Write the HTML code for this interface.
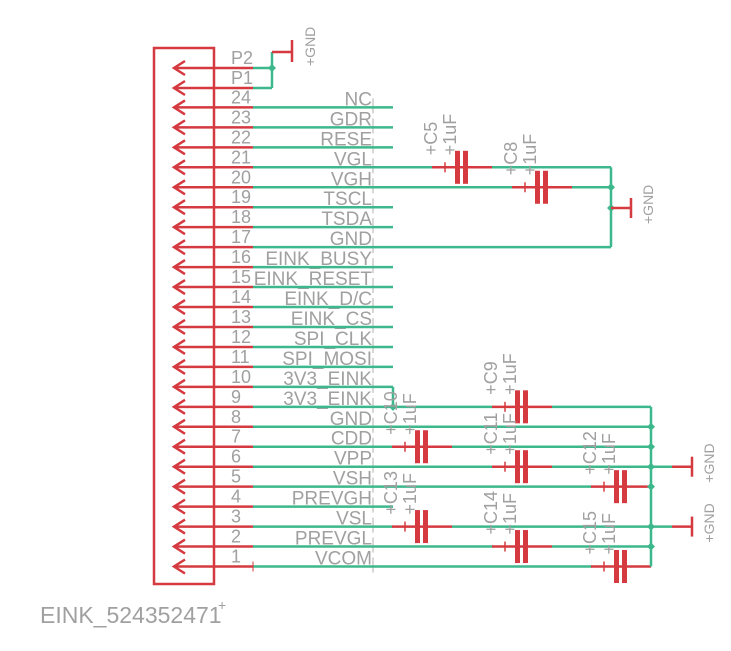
<!DOCTYPE html>
<html><head><meta charset="utf-8"><style>html,body{margin:0;padding:0;background:#fff}svg{display:block}text{font-family:"Liberation Sans",sans-serif;fill:#a0a0a0}</style></head>
<body>
<svg width="731" height="651" viewBox="0 0 731 651" xmlns="http://www.w3.org/2000/svg">
<g id="all"></g>
<script>
const S="http://www.w3.org/2000/svg",g=document.getElementById('all');
function el(t,a,txt){const e=document.createElementNS(S,t);for(const k in a)e.setAttribute(k,a[k]);if(txt!==undefined)e.textContent=txt;g.appendChild(e);return e;}
const R="#d43a3f",G="#3cb88c";
function ln(x1,y1,x2,y2,c,w){el('line',{x1,y1,x2,y2,stroke:c,'stroke-width':w||2.5});}
function dot(x,y){el('polygon',{points:`${x-4},${y} ${x},${y-4} ${x+4},${y} ${x},${y+4}`,fill:G});}
function py(n){return 566.5-(n-1)*19.96;}
el('rect',{x:154,y:48,width:60,height:536,fill:'none',stroke:R,'stroke-width':2.5});
const names={24:'NC',23:'GDR',22:'RESE',21:'VGL',20:'VGH',19:'TSCL',18:'TSDA',17:'GND',16:'EINK_BUSY',15:'EINK_RESET',14:'EINK_D/C',13:'EINK_CS',12:'SPI_CLK',11:'SPI_MOSI',10:'3V3_EINK',9:'3V3_EINK',8:'GND',7:'CDD',6:'VPP',5:'VSH',4:'PREVGH',3:'VSL',2:'PREVGL',1:'VCOM'};
const rows=[['P2',68],['P1',88]];for(let n=24;n>=1;n--)rows.push([String(n),py(n)]);
rows.forEach(([lab,y])=>{
 ln(174,y,253,y,R);
 el('polyline',{points:`185,${y-7} 174,${y} 185,${y+7}`,fill:'none',stroke:R,'stroke-width':2.5});
 el('text',{x:231,y:y-4,'font-size':18},lab);
 if(lab[0]!=='P'){const n=+lab;el('text',{x:372,y:y-2,'font-size':19,'text-anchor':'end'},names[n]);
  ln(373,y-9,373,y+6,'#b0b0b0',1);}
});
ln(253,68,272,68,G);ln(253,88,272,88,G);ln(272,52,272,88,G);dot(272,68);
ln(272,52,292,52,R);ln(292,40,292,62,R);
function gnd(x,y){el('text',{x:0,y:0,'font-size':14,transform:`translate(${x},${y}) rotate(-90)`},'+GND');}
gnd(315,66);
for(let n=24;n>=1;n--)ln(253,py(n),393,py(n),G);
function cap(cx,y,lab){ln(cx-30,y,cx+30,y,R);
 el('rect',{x:cx-7,y:y-16.5,width:5,height:33,fill:R});el('rect',{x:cx+1,y:y-16.5,width:5,height:33,fill:R});
 ln(cx-17,y-5,cx-17,y+5,R,1.5);
 el('text',{x:0,y:0,'font-size':18,transform:`translate(${cx-25},${y-12}) rotate(-90)`},'+'+lab);
 el('text',{x:0,y:0,'font-size':18,transform:`translate(${cx-6},${y-12}) rotate(-90)`},'+1uF');}
let y21=py(21),y20=py(20),y17=py(17);
ln(393,y21,432,y21,G);cap(462,y21,'C5');ln(492,y21,611,y21,G);
ln(393,y20,512,y20,G);cap(542,y20,'C8');ln(572,y20,611,y20,G);
ln(393,y17,611,y17,G);ln(611,y21,611,y17,G);dot(611,y20);dot(611,208);
ln(611,208,631,208,R);ln(631,198,631,218,R);gnd(653,224);
const B=651;
ln(393,py(10),393,py(9),G);dot(393,py(9));
ln(393,py(9),493,py(9),G);cap(522,py(9),'C9');ln(552,py(9),B,py(9),G);
ln(393,py(8),B,py(8),G);dot(B,py(8));
cap(422,py(7),'C10');ln(452,py(7),B,py(7),G);dot(B,py(7));
ln(393,py(6),493,py(6),G);cap(522,py(6),'C11');ln(552,py(6),B,py(6),G);dot(B,py(6));
ln(393,py(5),592,py(5),G);cap(621,py(5),'C12');dot(B,py(5));
cap(422,py(3),'C13');ln(452,py(3),B,py(3),G);dot(B,py(3));
ln(393,py(2),493,py(2),G);cap(522,py(2),'C14');ln(552,py(2),B,py(2),G);dot(B,py(2));
ln(393,py(1),592,py(1),G);cap(621,py(1),'C15');
ln(B,py(9),B,py(1),G);
[6,3].forEach(n=>{const y=py(n);ln(B,y,672,y,G);ln(672,y,692,y,R);ln(692,y-10,692,y+10,R);gnd(714,y+16);});
ln(253,py(1)-5,253,py(1)+5,R,1);
el('text',{x:40,y:623,'font-size':23},'EINK_524352471');
el('text',{x:218,y:610,'font-size':14},'+');
</script>
</svg>
</body></html>
